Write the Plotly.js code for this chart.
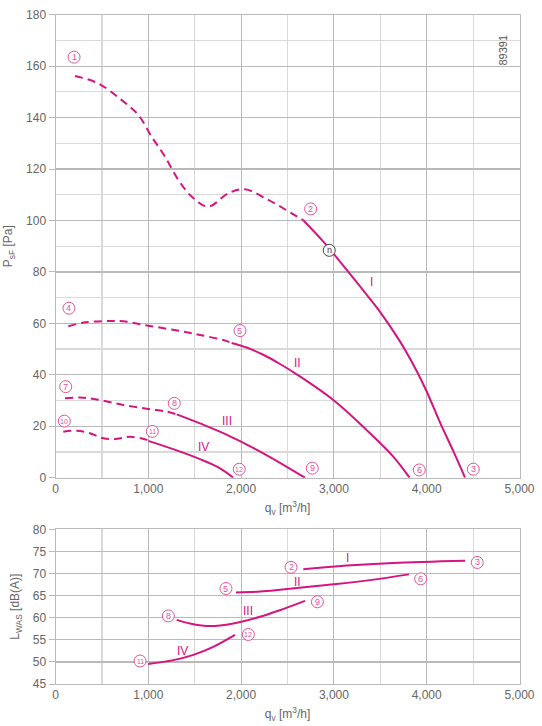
<!DOCTYPE html>
<html><head><meta charset="utf-8">
<script src="https://cdn.plot.ly/plotly-3.0.1.min.js"></script>
<style>html,body{margin:0;padding:0;background:#fff}#chart{width:542px;height:726px}</style>
</head><body><div id="chart"></div>
<script>
// ---- Pressure curves (top chart) ----
const I_dash_x = [210, 461, 713, 893, 1036, 1180, 1323, 1467, 1647, 1862, 2042, 2293, 2545, 2670];
const I_dash_y = [156.2, 153.3, 146.8, 141, 132.6, 124.8, 115.8, 109.3, 105.4, 110.6, 112.1, 108, 102.8, 100.1];
const I_solid_x = [2670, 2886, 3066, 3245, 3497, 3712, 3892, 4000, 4143, 4287, 4413];
const I_solid_y = [100.1, 91.8, 84.0, 76.0, 64.5, 53.0, 41.5, 33.5, 21.5, 10.3, 0];

const II_dash_x = [138, 300, 533, 731, 1000, 1377, 1557, 1808, 1898];
const II_dash_y = [58.9, 60.3, 60.9, 60.8, 59.1, 56.8, 55.5, 53.5, 52.4];
const II_solid_x = [1898, 2060, 2239, 2420, 2599, 2994, 3354, 3640, 3815];
const II_solid_y = [52.4, 50.6, 47.8, 44.2, 40.2, 30.2, 18.5, 8.2, 0];

const III_dash_x = [102, 300, 480, 731, 1000, 1198, 1306];
const III_dash_y = [30.9, 31.1, 30.2, 28.3, 26.7, 25.7, 24.6];
const III_solid_x = [1306, 1557, 1808, 2239, 2689];
const III_solid_y = [24.6, 21.1, 17.3, 9.5, 0];

const IV_dash_x = [84, 228, 372, 515, 641, 803, 983, 1000];
const IV_dash_y = [17.9, 18.3, 17.3, 15.3, 15.0, 15.9, 14.7, 14.3];
const IV_solid_x = [1000, 1306, 1557, 1760, 1916];
const IV_solid_y = [14.3, 10.6, 7.2, 3.9, 0];

// ---- Sound power curves (bottom chart) ----
const LI_x = [2670, 3138, 3640, 4413];
const LI_y = [70.95, 71.8, 72.4, 72.9];
const LII_x = [1945, 2204, 2419, 2922, 3389, 3809];
const LII_y = [65.7, 65.9, 66.3, 67.4, 68.5, 69.8];
const LIII_x = [1306, 1449, 1665, 1916, 2204, 2419, 2689];
const LIII_y = [59.5, 58.7, 58.1, 58.7, 60.2, 61.7, 63.8];
const LIV_x = [1000, 1270, 1486, 1700, 1934];
const LIV_y = [49.5, 50.4, 51.6, 53.4, 56.1];

// ---- Labels ----
const topPointLabels = ['1','2','3','4','5','6','7','8','9','10','11','12'];
const topPointX = [200, 2750, 4502, 145, 1988, 3920, 110, 1280, 2767, 95, 1043, 1980];
const topPointY = [163.5, 104.5, 3.3, 65.9, 57.2, 3.0, 35.4, 28.9, 3.7, 22, 18, 3.3];
const topRoman = ['I','II','III','IV'];
const topRomanX = [3400, 2610, 1845, 1600];
const topRomanY = [76.2, 44.5, 22, 12];
const opLabel = 'n';
const opX = 2950, opY = 88.4;

const botPointLabels = ['2','3','5','6','8','9','11','12'];
const botPointX = [2538, 4545, 1837, 3935, 1216, 2822, 911, 2078];
const botPointY = [71.4, 72.5, 66.6, 68.8, 60.4, 63.6, 50.2, 56.2];
const botRoman = ['I','II','III','IV'];
const botRomanX = [3148, 2610, 2078, 1371];
const botRomanY = [73.6, 68.0, 61.5, 52.5];

const xTickVals = [0, 1000, 2000, 3000, 4000, 5000];
const xTickText = ['0', '1,000', '2,000', '3,000', '4,000', '5,000'];

const MAG = '#d4157f';
const LAB = '#e0559a';
const dashed = {color: MAG, width: 2, dash: '8px,5px', shape: 'spline', smoothing: 1};
const solid = {color: MAG, width: 2, shape: 'spline', smoothing: 1};

function tr(x, y, line, xa, ya) {
  return {x: x, y: y, mode: 'lines', line: line, xaxis: xa, yaxis: ya, hoverinfo: 'skip', showlegend: false};
}
const data = [
  tr(I_dash_x, I_dash_y, dashed, 'x', 'y'), tr(I_solid_x, I_solid_y, solid, 'x', 'y'),
  tr(II_dash_x, II_dash_y, dashed, 'x', 'y'), tr(II_solid_x, II_solid_y, solid, 'x', 'y'),
  tr(III_dash_x, III_dash_y, dashed, 'x', 'y'), tr(III_solid_x, III_solid_y, solid, 'x', 'y'),
  tr(IV_dash_x, IV_dash_y, dashed, 'x', 'y'), tr(IV_solid_x, IV_solid_y, solid, 'x', 'y'),
  tr(LI_x, LI_y, solid, 'x2', 'y2'), tr(LII_x, LII_y, solid, 'x2', 'y2'),
  tr(LIII_x, LIII_y, solid, 'x2', 'y2'), tr(LIV_x, LIV_y, solid, 'x2', 'y2')
];

const FONT = 'Liberation Sans, Arial, sans-serif';
const tickFont = {family: FONT, size: 12, color: '#666'};
const GRID = '#b9b9b9', MINOR = '#d9d9d9';
const xBase = {
  range: [0, 5000], tickvals: xTickVals, ticktext: xTickText, showgrid: true, gridcolor: GRID, gridwidth: 1.2,
  minor: {dtick: 500, tick0: 0, showgrid: true, gridcolor: MINOR, gridwidth: 1.2},
  zeroline: false, showline: true, linecolor: GRID, linewidth: 1, mirror: true, ticks: '',
  tickfont: tickFont, fixedrange: true,
  title: {text: 'q<sub>v</sub> [m<sup>3</sup>/h]', font: {family: FONT, size: 12, color: '#666'}, standoff: 8}
};
const annotations = [];
const shapes = [];
function circled(t, x, y, xr, yr, col) {
  shapes.push({type: 'circle', xref: xr, yref: yr, xsizemode: 'pixel', ysizemode: 'pixel',
    xanchor: x, yanchor: y, x0: -6, x1: 6, y0: -6, y1: 6, line: {color: col, width: 1}, fillcolor: 'rgba(255,255,255,0.9)'});
  annotations.push({text: t, x: x, y: y, xref: xr, yref: yr, showarrow: false, xanchor: 'center', yanchor: 'middle',
    font: {family: FONT, size: t.length > 1 ? 7 : 9, color: col}});
}
function roman(t, x, y, xr, yr) {
  annotations.push({text: t, x: x, y: y, xref: xr, yref: yr, showarrow: false, xanchor: 'center', yanchor: 'middle',
    font: {family: FONT, size: 12, color: MAG}});
}
topPointLabels.forEach((t, i) => circled(t, topPointX[i], topPointY[i], 'x', 'y', LAB));
topRoman.forEach((t, i) => roman(t, topRomanX[i], topRomanY[i], 'x', 'y'));
circled(opLabel, opX, opY, 'x', 'y', '#444');
botPointLabels.forEach((t, i) => circled(t, botPointX[i], botPointY[i], 'x2', 'y2', LAB));
botRoman.forEach((t, i) => roman(t, botRomanX[i], botRomanY[i], 'x2', 'y2'));
annotations.push({text: '89391', x: 511 / 542, y: 1 - 33 / 726, xref: 'paper', yref: 'paper', showarrow: false,
  textangle: -90, font: {family: FONT, size: 11, color: '#555'}});

const layout = {
  width: 542, height: 726, margin: {l: 0, r: 0, t: 0, b: 0},
  paper_bgcolor: '#fff', plot_bgcolor: '#fff', showlegend: false,
  xaxis: Object.assign({}, xBase, {domain: [55.5 / 542, 519.5 / 542], anchor: 'y'}),
  yaxis: {domain: [1 - 477.7 / 726, 1 - 14.7 / 726], anchor: 'x', range: [0, 180], dtick: 20, tick0: 0,
    showgrid: true, gridcolor: GRID, gridwidth: 1.2,
    minor: {dtick: 10, tick0: 0, showgrid: true, gridcolor: MINOR, gridwidth: 1.2},
    zeroline: false, showline: true, linecolor: GRID, linewidth: 1, mirror: true,
    ticks: 'outside', ticklen: 6, tickcolor: GRID, tickfont: tickFont, fixedrange: true,
    title: {text: 'P<sub>sF</sub> [Pa]', font: {family: FONT, size: 12, color: '#666'}, standoff: 10}},
  xaxis2: Object.assign({}, xBase, {domain: [55.5 / 542, 519.5 / 542], anchor: 'y2'}),
  yaxis2: {domain: [1 - 684 / 726, 1 - 529.3 / 726], anchor: 'x2', range: [45, 80], dtick: 5, tick0: 45,
    showgrid: true, gridcolor: GRID, gridwidth: 1.2, zeroline: false, showline: true, linecolor: GRID, linewidth: 1, mirror: true,
    ticks: 'outside', ticklen: 6, tickcolor: GRID, tickfont: tickFont, fixedrange: true,
    title: {text: 'L<sub>WAS</sub> [dB(A)]', font: {family: FONT, size: 12, color: '#666'}, standoff: 10}},
  annotations: annotations,
  shapes: shapes
};
Plotly.newPlot('chart', data, layout, {staticPlot: true, displayModeBar: false});
</script></body></html>
